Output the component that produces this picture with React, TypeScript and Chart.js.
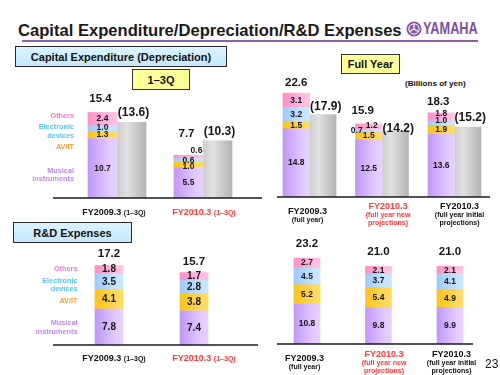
import React, { useEffect, useRef } from "react";
import { Chart, registerables } from "chart.js";
Chart.register(...registerables);

// ---------- DATA ----------
const capexQCategories = ["FY2009.3", "FY2010.3"];
const capexQMusical = [10.7, 5.5];
const capexQAvit = [1.3, 1.0];
const capexQElectronic = [1.0, 0.6];
const capexQOthers = [2.4, 0.6];
const capexQDepreciation = [13.6, 10.3];
const capexQTotals = [15.4, 7.7];

const capexFYCategories = ["FY2009.3", "FY2010.3", "FY2010.3"];
const capexFYMusical = [14.8, 12.5, 13.6];
const capexFYAvit = [1.5, 1.5, 1.9];
const capexFYElectronic = [3.2, 0.7, 1.0];
const capexFYOthers = [3.1, 1.2, 1.8];
const capexFYDepreciation = [17.9, 14.2, 15.2];
const capexFYTotals = [22.6, 15.9, 18.3];

const rdQCategories = ["FY2009.3", "FY2010.3"];
const rdQMusical = [7.8, 7.4];
const rdQAvit = [4.1, 3.8];
const rdQElectronic = [3.5, 2.8];
const rdQOthers = [1.8, 1.7];
const rdQTotals = [17.2, 15.7];

const rdFYCategories = ["FY2009.3", "FY2010.3", "FY2010.3"];
const rdFYMusical = [10.8, 9.8, 9.9];
const rdFYAvit = [5.2, 5.4, 4.9];
const rdFYElectronic = [4.5, 3.7, 4.1];
const rdFYOthers = [2.7, 2.1, 2.1];
const rdFYTotals = [23.2, 21.0, 21.0];

const quarterSubLabels = [["(1–3Q)"], ["(1–3Q)"]];
const fullYearSubLabels = [["(full year)"], ["(full year new", "projections)"], ["(full year initial", "projections)"]];
const quarterCatColors = ["#111111", "#ff3b3b"];
const fullYearCatColors = ["#111111", "#ff3b3b", "#111111"];
const segmentNames = ["Musical instruments", "AV/IT", "Electronic devices", "Others", "Depreciation"];

// ---------- STYLE ----------
const FONT = "'Liberation Sans', Arial, Helvetica, sans-serif";
const NARROW = "'Liberation Sans Narrow', 'Liberation Sans', Arial, sans-serif";
const segSolid = ["#d4b0ff", "#ffcc33", "#b0d8ff", "#ffa6d2", "#cccccc"];
const segStops: [number, string][][] = [
  [[0, "#c197f7"], [0.75, "#e2cbff"], [1, "#e6d2ff"]],
  [[0, "#ffc414"], [0.75, "#ffd95c"], [1, "#ffdc66"]],
  [[0, "#9ccbfc"], [0.75, "#c6e3ff"], [1, "#cbe6ff"]],
  [[0, "#ff8fc7"], [0.75, "#ffbddf"], [1, "#ffc3e2"]],
  [[0, "#cdcdcd"], [0.35, "#e1e1e1"], [1, "#b3b3b3"]],
];
const legendColors = ["#c08af0", "#ff9a3c", "#5cc4f5", "#f27ad6"];

type Cfg = {
  left: number; top: number; w: number; h: number;
  pad: { left: number; right: number; top: number; bottom: number };
  ymax: number; barW: number;
  cats: string[]; subs: string[][]; catColors: string[]; inlineSub: boolean;
  catDx: number[]; catY: number[];
  series: number[][]; dep?: number[];
  totals: number[]; totalGap: number[]; totalDx: number[];
  depGap?: number[]; depDx?: number[];
  segOff: Record<string, [number, number]>;
  segFont: string; totalFont: string;
  axis: [number, number];
  legend?: { x: number; ys: number[][] };
};

function makePlugin(cfg: Cfg) {
  return {
    id: "slide",
    beforeDatasetsDraw(chart: any) {
      const ctx = chart.ctx;
      chart.data.datasets.forEach((ds: any, di: number) => {
        const meta = chart.getDatasetMeta(di);
        const stops = segStops[ds.segIndex];
        meta.data.forEach((el: any) => {
          const p = el.getProps(["x", "width"], true);
          const g = ctx.createLinearGradient(p.x - p.width / 2, 0, p.x + p.width / 2, 0);
          stops.forEach(([o, c]) => g.addColorStop(o, c));
          el.options = { ...el.options, backgroundColor: g };
        });
      });
    },
    afterDraw(chart: any) {
      const ctx: CanvasRenderingContext2D = chart.ctx;
      const xs = chart.scales.x;
      const ys = chart.scales.y;
      const L = cfg.left, T = cfg.top;
      ctx.save();
      // axis line
      const y0 = ys.getPixelForValue(0);
      ctx.strokeStyle = "#1a1a1a";
      ctx.lineWidth = 1.6;
      ctx.beginPath();
      ctx.moveTo(cfg.axis[0] - L, y0);
      ctx.lineTo(cfg.axis[1] - L, y0);
      ctx.stroke();

      ctx.textAlign = "center";
      ctx.textBaseline = "middle";
      ctx.fillStyle = "#161616";
      // segment labels
      for (let di = 0; di < cfg.series.length; di++) {
        const meta = chart.getDatasetMeta(di);
        meta.data.forEach((el: any, i: number) => {
          const v = cfg.series[di][i];
          const off = cfg.segOff[di + "-" + i] || [0, 0];
          ctx.font = cfg.segFont;
          ctx.fillText(v.toFixed(1), el.x + off[0], (el.y + el.base) / 2 + off[1]);
        });
      }
      // totals above the top segment
      const topMeta = chart.getDatasetMeta(cfg.series.length - 1);
      topMeta.data.forEach((el: any, i: number) => {
        ctx.font = cfg.totalFont;
        ctx.fillText(cfg.totals[i].toFixed(1), el.x + cfg.totalDx[i], el.y - cfg.totalGap[i]);
      });
      // depreciation labels
      if (cfg.dep) {
        const dMeta = chart.getDatasetMeta(cfg.series.length);
        dMeta.data.forEach((el: any, i: number) => {
          ctx.font = "bold 12px " + FONT;
          ctx.fillText("(" + cfg.dep![i].toFixed(1) + ")", el.x + cfg.depDx![i], el.y - cfg.depGap![i]);
        });
      }
      // category labels
      ctx.textBaseline = "alphabetic";
      cfg.cats.forEach((c, i) => {
        const cx = xs.getPixelForValue(i) + cfg.catDx[i];
        const cy = cfg.catY[i] - T + 3.5;
        ctx.fillStyle = cfg.catColors[i];
        if (cfg.inlineSub) {
          const mainF = "bold 9px " + FONT;
          const subF = "bold 7px " + FONT;
          ctx.font = mainF;
          const w1 = ctx.measureText(c + " ").width;
          ctx.font = subF;
          const w2 = ctx.measureText(cfg.subs[i][0]).width;
          const x0 = cx - (w1 + w2) / 2;
          ctx.textAlign = "left";
          ctx.font = mainF;
          ctx.fillText(c + " ", x0, cy);
          ctx.font = subF;
          ctx.fillText(cfg.subs[i][0], x0 + w1, cy);
        } else {
          ctx.textAlign = "center";
          ctx.font = "bold 9px " + FONT;
          ctx.fillText(c, cx, cy);
          ctx.font = "bold 7px " + FONT;
          cfg.subs[i].forEach((s, k) => {
            ctx.fillText(s, cx, cy + 8.5 + 8 * k);
          });
        }
      });
      // segment legend text
      if (cfg.legend) {
        ctx.textAlign = "right";
        ctx.textBaseline = "middle";
        ctx.font = "bold 7.3px " + FONT;
        const words = [["Musical", "instruments"], ["AV/IT"], ["Electronic", "devices"], ["Others"]];
        words.forEach((ws, si) => {
          ctx.fillStyle = legendColors[si];
          ws.forEach((w, k) => {
            ctx.fillText(w, cfg.legend!.x - L, cfg.legend!.ys[si][k] - T);
          });
        });
      }
      ctx.restore();
    },
  };
}

function SlideChart({ cfg }: { cfg: Cfg }) {
  const ref = useRef<HTMLCanvasElement | null>(null);
  useEffect(() => {
    if (!ref.current) return;
    const datasets: any[] = cfg.series.map((d, si) => ({
      label: segmentNames[si],
      data: d,
      stack: "seg",
      segIndex: si,
      backgroundColor: segSolid[si],
      borderWidth: 0,
    }));
    if (cfg.dep) {
      datasets.push({
        label: segmentNames[4],
        data: cfg.dep,
        stack: "dep",
        segIndex: 4,
        backgroundColor: segSolid[4],
        borderWidth: 0,
      });
    }
    const chart = new Chart(ref.current, {
      type: "bar",
      data: { labels: cfg.cats, datasets },
      options: {
        responsive: false,
        animation: false,
        events: [],
        layout: { padding: cfg.pad },
        datasets: { bar: { barThickness: cfg.barW } as any },
        scales: {
          x: { display: false, stacked: true },
          y: { display: false, stacked: true, min: 0, max: cfg.ymax },
        },
        plugins: { legend: { display: false }, tooltip: { enabled: false } },
      },
      plugins: [makePlugin(cfg) as any],
    });
    return () => chart.destroy();
  }, []);
  return (
    <canvas
      ref={ref}
      width={cfg.w}
      height={cfg.h}
      style={{ position: "absolute", left: cfg.left, top: cfg.top, width: cfg.w, height: cfg.h }}
    />
  );
}

const capexQCfg: Cfg = {
  left: 0, top: 80, w: 262, h: 145,
  pad: { left: 74, right: 16, top: 18, bottom: 27 },
  ymax: 18, barW: 29,
  cats: capexQCategories, subs: quarterSubLabels, catColors: quarterCatColors, inlineSub: true,
  catDx: [-3, 1], catY: [211, 211],
  series: [capexQMusical, capexQAvit, capexQElectronic, capexQOthers], dep: capexQDepreciation,
  totals: capexQTotals, totalGap: [14, 21], totalDx: [-2, -2],
  depGap: [9.5, 9], depDx: [2, 2],
  segOff: { "3-1": [8, -6], "1-1": [0, 2], "2-0": [0, -1] },
  segFont: "bold 8.5px " + FONT, totalFont: "bold 11.5px " + FONT,
  axis: [53, 262],
  legend: { x: 74, ys: [[171, 179], [147], [127, 135.5], [116]] },
};

const capexFYCfg: Cfg = {
  left: 262, top: 60, w: 238, h: 175,
  pad: { left: 11.25, right: 9.25, top: 17.4, bottom: 38 },
  ymax: 26, barW: 26.5,
  cats: capexFYCategories, subs: fullYearSubLabels, catColors: fullYearCatColors, inlineSub: false,
  catDx: [-2, 6, 5], catY: [210, 205, 205],
  series: [capexFYMusical, capexFYAvit, capexFYElectronic, capexFYOthers], dep: capexFYDepreciation,
  totals: capexFYTotals, totalGap: [10, 13, 11], totalDx: [0, -6, -3],
  depGap: [8, 3, 9], depDx: [3, 3, 2.5],
  segOff: { "2-1": [-12, 0], "3-1": [3, -1], "3-2": [0, -3], "2-2": [0, -3] },
  segFont: "bold 8.5px " + FONT, totalFont: "bold 11.5px " + FONT,
  axis: [277, 490],
};

const rdQCfg: Cfg = {
  left: 0, top: 240, w: 262, h: 135,
  pad: { left: 66.5, right: 25.5, top: 12.6, bottom: 30 },
  ymax: 20, barW: 28,
  cats: rdQCategories, subs: quarterSubLabels, catColors: quarterCatColors, inlineSub: true,
  catDx: [5, 10], catY: [357, 357],
  series: [rdQMusical, rdQAvit, rdQElectronic, rdQOthers],
  totals: rdQTotals, totalGap: [11.5, 10.5], totalDx: [0, 0],
  segOff: {},
  segFont: "bold 10px " + NARROW, totalFont: "bold 11.5px " + FONT,
  axis: [53, 258],
  legend: { x: 77.5, ys: [[323.3, 332], [301], [281, 289.3], [269.3]] },
};

const rdFYCfg: Cfg = {
  left: 262, top: 230, w: 238, h: 145,
  pad: { left: 9.25, right: 14.25, top: 17.8, bottom: 31 },
  ymax: 26, barW: 26,
  cats: rdFYCategories, subs: fullYearSubLabels, catColors: fullYearCatColors, inlineSub: false,
  catDx: [-2.5, 5.5, 1.5], catY: [357, 353, 353],
  series: [rdFYMusical, rdFYAvit, rdFYElectronic, rdFYOthers],
  totals: rdFYTotals, totalGap: [14, 14, 14], totalDx: [0, 0, 0],
  segOff: {},
  segFont: "bold 8.5px " + FONT, totalFont: "bold 11.5px " + FONT,
  axis: [277, 473],
};

const boxBlue: React.CSSProperties = {
  position: "absolute",
  background: "linear-gradient(#dcf3ff, #c3e8fb)",
  border: "1px solid #2a2a2a",
  boxSizing: "border-box",
  fontWeight: "bold",
  color: "#111",
  display: "flex",
  alignItems: "center",
  justifyContent: "center",
};
const boxYellow: React.CSSProperties = {
  ...boxBlue,
  background: "#ffff99",
  border: "1px solid #333",
};

export default function App() {
  return (
    <div
      style={{
        position: "absolute", left: 0, top: 0, width: 500, height: 375,
        background: "#ffffff", fontFamily: FONT, overflow: "hidden",
      }}
    >
      <div style={{ position: "absolute", left: 18, top: 21, fontSize: 16.6, fontWeight: "bold", color: "#1a1a1a", whiteSpace: "nowrap", lineHeight: "20px" }}>
        Capital Expenditure/Depreciation/R&amp;D Expenses
      </div>
      <div style={{ position: "absolute", left: 22, top: 40, width: 456, height: 2, background: "#8c5fa8" }} />
      <svg style={{ position: "absolute", left: 406, top: 21 }} width="16" height="16" viewBox="0 0 16 16">
        <circle cx="8" cy="8" r="7.6" fill="#8a5aa6" />
        <circle cx="8" cy="8" r="5.2" fill="none" stroke="#ffffff" strokeWidth="1" />
        <g stroke="#ffffff" strokeWidth="1.2">
          <line x1="8" y1="3" x2="8" y2="8" />
          <line x1="8" y1="8" x2="3.7" y2="10.5" />
          <line x1="8" y1="8" x2="12.3" y2="10.5" />
        </g>
      </svg>
      <div style={{ position: "absolute", left: 423, top: 19, fontSize: 17, fontWeight: "bold", color: "#7f4fa3", whiteSpace: "nowrap", transform: "scaleX(0.75)", transformOrigin: "left center", lineHeight: "20px" }}>
        YAMAHA
      </div>

      <div style={{ ...boxBlue, left: 15, top: 46, width: 212, height: 21, fontSize: 11 }}>
        Capital Expenditure (Depreciation)
      </div>
      <div style={{ ...boxYellow, left: 132, top: 69, width: 58, height: 21, fontSize: 11 }}>1–3Q</div>
      <div style={{ ...boxYellow, left: 341, top: 54, width: 59, height: 20, fontSize: 11 }}>Full Year</div>
      <div style={{ position: "absolute", left: 405, top: 79, fontSize: 8.1, fontWeight: "bold", color: "#111", whiteSpace: "nowrap" }}>
        (Billions of yen)
      </div>
      <div style={{ ...boxBlue, left: 13, top: 222, width: 119, height: 21, fontSize: 11 }}>R&amp;D Expenses</div>

      <SlideChart cfg={capexQCfg} />
      <SlideChart cfg={capexFYCfg} />
      <SlideChart cfg={rdQCfg} />
      <SlideChart cfg={rdFYCfg} />

      <div style={{ position: "absolute", left: 485, top: 357, fontSize: 12, color: "#111", lineHeight: "14px" }}>23</div>
    </div>
  );
}
